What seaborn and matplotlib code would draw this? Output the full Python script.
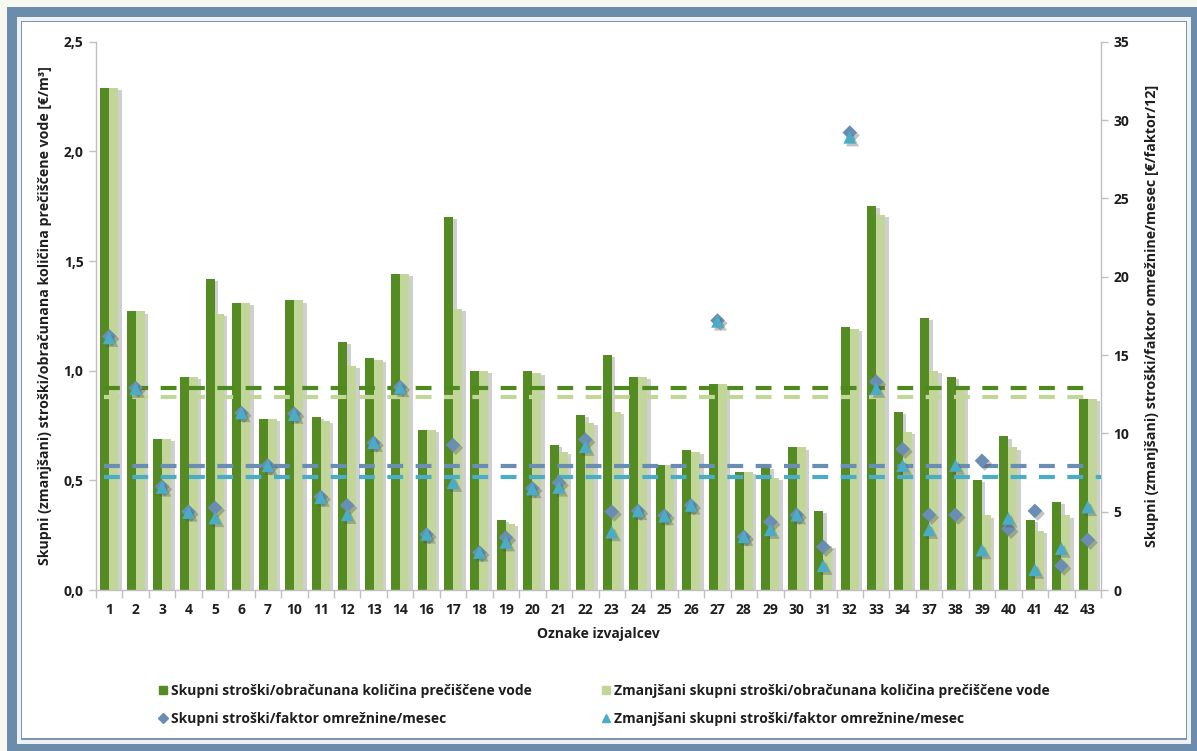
import numpy as np
import pandas as pd
import matplotlib
matplotlib.use("Agg")
import matplotlib.pyplot as plt
import matplotlib.patheffects as pe
from matplotlib.patches import Rectangle
from matplotlib.lines import Line2D
from matplotlib.ticker import FuncFormatter, MultipleLocator
import seaborn as sns

# Provider codes (x categories)
providers = ["1", "2", "3", "4", "5", "6", "7", "10", "11", "12", "13", "14", "16",
             "17", "18", "19", "20", "21", "22", "23", "24", "25", "26", "27", "28",
             "29", "30", "31", "32", "33", "34", "37", "38", "39", "40", "41", "42", "43"]

# Left axis: costs per billed quantity of treated water [EUR/m3]
cost_per_m3 = [2.29, 1.27, 0.69, 0.97, 1.42, 1.31, 0.78, 1.32, 0.79, 1.13, 1.06, 1.44, 0.73,
               1.70, 1.00, 0.32, 1.00, 0.66, 0.80, 1.07, 0.97, 0.57, 0.64, 0.94, 0.54,
               0.56, 0.65, 0.36, 1.20, 1.75, 0.81, 1.24, 0.97, 0.50, 0.70, 0.32, 0.40, 0.87]
reduced_cost_per_m3 = [2.29, 1.27, 0.69, 0.97, 1.26, 1.31, 0.78, 1.32, 0.77, 1.02, 1.05, 1.44, 0.73,
                       1.28, 1.00, 0.30, 0.99, 0.63, 0.76, 0.81, 0.97, 0.57, 0.63, 0.94, 0.54,
                       0.51, 0.65, 0.20, 1.19, 1.71, 0.72, 1.00, 0.93, 0.34, 0.65, 0.27, 0.34, 0.87]

# Right axis: costs per network charge factor per month [EUR/factor/12]
cost_per_factor = [16.2, 12.9, 6.6, 5.0, 5.25, 11.3, 7.95, 11.25, 5.95, 5.4, 9.4, 12.95, 3.55,
                   9.25, 2.4, 3.35, 6.5, 6.85, 9.6, 5.0, 5.05, 4.75, 5.4, 17.2, 3.4,
                   4.35, 4.8, 2.75, 29.2, 13.3, 9.0, 4.8, 4.8, 8.25, 3.9, 5.05, 1.55, 3.2]
reduced_cost_per_factor = [16.1, 12.85, 6.55, 4.95, 4.6, 11.3, 7.93, 11.2, 5.9, 4.8, 9.4, 12.9, 3.55,
                           6.85, 2.4, 3.05, 6.45, 6.55, 9.15, 3.7, 5.05, 4.72, 5.4, 17.15, 3.4,
                           3.85, 4.78, 1.55, 28.9, 12.85, 7.95, 3.85, 7.95, 2.55, 4.57, 1.3, 2.65, 5.3]

# Averages drawn as dashed reference lines
avg_cost_per_m3 = 0.92
avg_reduced_cost_per_m3 = 0.88
avg_cost_per_factor = 7.9
avg_reduced_cost_per_factor = 7.22

lab_m3 = "Skupni stroški/obračunana količina prečiščene vode"
lab_m3_red = "Zmanjšani skupni stroški/obračunana količina prečiščene vode"
lab_f = "Skupni stroški/faktor omrežnine/mesec"
lab_f_red = "Zmanjšani skupni stroški/faktor omrežnine/mesec"

C_DARK = "#558b23"
C_LIGHT = "#c2d69a"
C_DIAMOND = "#6a8db3"
C_TRI = "#4aacc6"
C_AX = "#bfbfbf"
C_TXT = "#1e1e1e"

sns.set_theme(style="white")
plt.rcParams["font.family"] = ["Open Sans", "DejaVu Sans"]
plt.rcParams["font.weight"] = "bold"
plt.rcParams["axes.labelweight"] = "bold"
plt.rcParams["text.color"] = C_TXT
plt.rcParams["axes.labelcolor"] = C_TXT
plt.rcParams["xtick.color"] = C_TXT
plt.rcParams["ytick.color"] = C_TXT

W, H = 1197, 751
fig = plt.figure(figsize=(W / 100, H / 100), dpi=100)
fig.patch.set_facecolor("#f8f8f3")

# ---- decorative frame (pixel coordinates) ----
bg = fig.add_axes([0, 0, 1, 1], zorder=-10)
bg.set_xlim(0, W)
bg.set_ylim(H, 0)
bg.axis("off")
bg.add_patch(Rectangle((7, 7), W - 7, H - 7, color="#6b8cab", lw=0))
bg.add_patch(Rectangle((17, 17), 1174, 727, color="#eef2f5", lw=0))
bg.add_patch(Rectangle((21, 21), 1166, 719, color="#7a96b0", lw=0))
bg.add_patch(Rectangle((22, 22), 1164, 716, color="white", lw=0))


def shade(x0, x1, y0, y1, horizontal, reverse, amax):
    ramp = np.linspace(amax, 0, 32)
    if reverse:
        ramp = ramp[::-1]
    if horizontal:
        alpha = np.tile(ramp, (2, 1))
    else:
        alpha = np.tile(ramp[:, None], (1, 2))
    img = np.zeros(alpha.shape + (4,))
    img[..., :3] = 0.35
    img[..., 3] = alpha
    bg.imshow(img, extent=(x0, x1, y1, y0), aspect="auto", interpolation="bilinear")


shade(22, 1186, 22, 29, False, False, 0.45)     # top
shade(22, 30, 22, 738, True, False, 0.40)       # left
shade(22, 1186, 722, 738, False, True, 0.55)    # bottom
shade(1174, 1186, 22, 738, True, True, 0.65)    # right
bg.set_xlim(0, W)
bg.set_ylim(H, 0)

# ---- main chart ----
ax = fig.add_axes([96 / W, 1 - 590 / H, (1101 - 96) / W, (590 - 41.7) / H])
ax.set_facecolor("none")
n = len(providers)

bars = pd.DataFrame({
    "Oznaka": providers * 2,
    "serija": [lab_m3] * n + [lab_m3_red] * n,
    "vrednost": cost_per_m3 + reduced_cost_per_m3,
})
sns.barplot(data=bars, x="Oznaka", y="vrednost", hue="serija", order=providers,
            hue_order=[lab_m3, lab_m3_red], palette=[C_DARK, C_LIGHT], width=0.68,
            saturation=1, legend=False, ax=ax, zorder=2, linewidth=0)
for p in ax.patches:
    p.set_path_effects([pe.SimplePatchShadow(offset=(2.5, -1.5), shadow_rgbFace="#606060", alpha=0.3),
                        pe.Normal()])

ax.axhline(avg_cost_per_m3, xmin=0.008, xmax=0.985, color="#4d891c", lw=3.0,
           dashes=(3.8, 3.0), zorder=3)
ax.axhline(avg_reduced_cost_per_m3, xmin=0.008, xmax=0.985, color=C_LIGHT, lw=3.0,
           dashes=(3.8, 3.0), zorder=3)

ax.set_xlim(-0.5, n - 0.5)
ax.set_ylim(0, 2.5)
ax.yaxis.set_major_locator(MultipleLocator(0.5))
ax.yaxis.set_major_formatter(FuncFormatter(lambda v, _: f"{v:.1f}".replace(".", ",")))
ax.set_xticks(np.arange(-0.5, n, 1), minor=True)
ax.tick_params(axis="x", which="major", length=0, pad=9, labelsize=10, bottom=True)
ax.tick_params(axis="x", which="minor", length=6, color=C_AX, width=1, bottom=True)
ax.tick_params(axis="y", length=5, color=C_AX, width=1, pad=4, labelsize=10, left=True)
for s in ("top", "right"):
    ax.spines[s].set_visible(False)
for s in ("left", "bottom"):
    ax.spines[s].set_color(C_AX)
    ax.spines[s].set_linewidth(1)

ax.set_xlabel("Oznake izvajalcev", fontsize=10, fontweight="bold", va="center")
ax.xaxis.set_label_coords(0.5, -(634 - 590) / 548.3)
ax.set_ylabel("Skupni (zmanjšani) stroški/obračunana količina prečiščene vode [€/m³]",
              fontsize=9.0, fontweight="bold", va="center")
ax.yaxis.set_label_coords(-(96 - 45) / 1005, 0.5)

# ---- secondary axis with per-factor costs ----
ax2 = ax.twinx()
ax2.set_ylim(0, 35)
ax2.yaxis.set_major_locator(MultipleLocator(5))
ax2.axhline(avg_cost_per_factor, xmin=0.008, xmax=0.985, color=C_DIAMOND, lw=3.0,
            dashes=(3.8, 3.0), zorder=3)
ax2.axhline(avg_reduced_cost_per_factor, xmin=0.008, xmax=1.0, color=C_TRI, lw=3.0,
            dashes=(3.8, 3.0), zorder=3)

xpos = np.arange(n)
sns.scatterplot(x=xpos, y=cost_per_factor, marker="D", s=55, color=C_DIAMOND,
                edgecolor="none", ax=ax2, zorder=4)
sns.scatterplot(x=xpos, y=reduced_cost_per_factor, marker="^", s=85, color=C_TRI,
                edgecolor="none", ax=ax2, zorder=5)
for coll in ax2.collections:
    coll.set_path_effects([pe.SimplePatchShadow(offset=(2, -2), shadow_rgbFace="#505050", alpha=0.35),
                           pe.Normal()])

ax2.set_xlim(-0.5, n - 0.5)
ax2.tick_params(axis="y", length=5, color=C_AX, width=1, pad=4, labelsize=10, right=True)
for s in ("top", "left", "bottom"):
    ax2.spines[s].set_visible(False)
ax2.spines["right"].set_color(C_AX)
ax2.spines["right"].set_linewidth(1)
ax2.set_ylabel("Skupni (zmanjšani) stroški/faktor omrežnine/mesec [€/faktor/12]",
               fontsize=9.0, fontweight="bold", rotation=90, va="center")
ax2.yaxis.set_label_coords((1152 - 96) / 1005, 0.5)

# scale the rotated axis titles to their intended run length (pixels)
fig.canvas.draw()
renderer = fig.canvas.get_renderer()
for label, run_px in ((ax.yaxis.label, 498), (ax2.yaxis.label, 463)):
    ext = label.get_window_extent(renderer)
    label.set_fontsize(label.get_fontsize() * run_px / ext.height)

# ---- legend ----
handles = [
    Line2D([], [], ls="none", marker="s", ms=6, color=C_DARK),
    Line2D([], [], ls="none", marker="D", ms=5, color=C_DIAMOND),
    Line2D([], [], ls="none", marker="s", ms=6, color=C_LIGHT),
    Line2D([], [], ls="none", marker="^", ms=6, color=C_TRI),
]
labels = [lab_m3, lab_f, lab_m3_red, lab_f_red]
fig.legend(handles, labels, ncol=2, loc="upper left",
           bbox_to_anchor=(152 / W, 1 - 677 / H), frameon=False,
           prop={"size": 10, "weight": "bold"},
           handlelength=0.6, handletextpad=0.3, columnspacing=5.0, labelspacing=1.0,
           borderpad=0)

fig.savefig("out.png", dpi=100, facecolor=fig.get_facecolor())
